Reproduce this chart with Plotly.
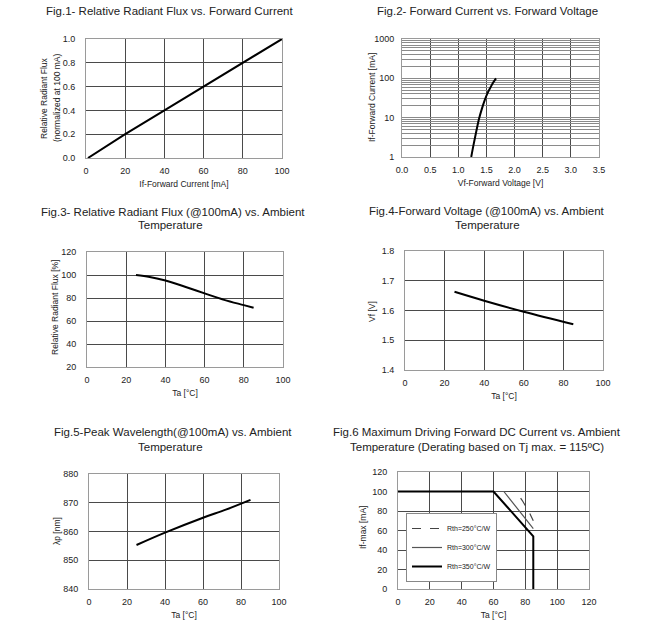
import plotly.graph_objects as go

W, H = 662, 627
FONT = "Liberation Sans"

# ---------------- data ----------------
f1_current = [1, 20, 40, 60, 80, 100]
f1_flux = [0.0, 0.2, 0.4, 0.6, 0.8, 1.0]

f2_voltage = [1.23, 1.27, 1.32, 1.37, 1.42, 1.47, 1.52, 1.57, 1.62, 1.67]
f2_current = [1.0, 2.0, 4.5, 9.5, 17, 28, 42, 58, 78, 100]

f3_temp = [25, 32, 40, 50, 60, 70, 80, 85]
f3_flux = [100, 98.3, 95.3, 89.8, 84.0, 78.4, 73.8, 71.5]

f4_temp = [25, 40, 60, 85]
f4_vf = [1.663, 1.633, 1.596, 1.554]

f5_temp = [25, 40, 60, 72, 85]
f5_wl = [855.3, 859.6, 864.8, 867.6, 871.0]

f6_temp_250 = [0, 74, 78, 82, 85]
f6_imax_250 = [100, 100, 91, 80, 70]
f6_temp_300 = [0, 66.5, 85]
f6_imax_300 = [100, 100, 62]
f6_temp_350 = [0, 60, 85, 85]
f6_imax_350 = [100, 100, 54, 0]

# title lines: (text, centre x px, centre y px)
title_lines = [
    ("Fig.1- Relative Radiant Flux vs. Forward Current", 169, 11),
    ("Fig.2- Forward Current vs. Forward Voltage", 487, 11),
    ("Fig.3- Relative Radiant Flux (@100mA) vs. Ambient", 173, 212),
    ("Temperature", 170, 225),
    ("Fig.4-Forward Voltage (@100mA) vs. Ambient", 487, 211),
    ("Temperature", 487, 225),
    ("Fig.5-Peak Wavelength(@100mA) vs. Ambient", 173, 432),
    ("Temperature", 170, 447),
    ("Fig.6 Maximum Driving Forward DC Current vs. Ambient", 477, 432),
    ("Temperature (Derating based on Tj max. = 115ºC)", 477, 447),
]

# y-axis titles: (text, centre x px, centre y px)
ytitles = [
    ("Relative Radiant Flux", 44, 98),
    ("(normalized at 100 mA)", 57, 98),
    ("If-Forward Current [mA]", 372, 98),
    ("Relative Radiant Flux [%]", 55, 308),
    ("Vf [V]", 372, 312),
    ("λp [nm]", 57, 531),
    ("If-max [mA]", 363, 528),
]

# ---------------- layout helpers ----------------
def dx(a, b):
    return [a / W, b / W]

def dy(top, bottom):
    return [1 - bottom / H, 1 - top / H]

GRID = "#4a4a4a"
FRAME = "#9a9a9a"
TICKF = dict(family=FONT, size=9, color="#222")
TITLEF = dict(family=FONT, size=8.5, color="#222")

def xax(domain, anchor, rng, dtick, title, fmt=None, standoff=6):
    d = dict(domain=domain, anchor=anchor, range=rng, dtick=dtick, tick0=0,
             automargin=False,
             showgrid=True, gridcolor=GRID, gridwidth=1, zeroline=False,
             showline=True, linecolor=FRAME, linewidth=1, mirror=True,
             ticks="", tickfont=TICKF, ticklabelstandoff=4,
             title=dict(text=title, font=TITLEF, standoff=standoff))
    if fmt:
        d["tickformat"] = fmt
    return d

def yax(domain, anchor, rng, dtick, fmt=None, lso=8):
    d = dict(domain=domain, anchor=anchor, range=rng, dtick=dtick, tick0=0,
             automargin=False,
             showgrid=True, gridcolor=GRID, gridwidth=1, zeroline=False,
             showline=True, linecolor=FRAME, linewidth=1, mirror=True,
             ticks="", tickfont=TICKF, ticklabelstandoff=lso)
    if fmt:
        d["tickformat"] = fmt
    return d

fig = go.Figure()
line = dict(color="black", width=2)

fig.add_trace(go.Scatter(x=f1_current, y=f1_flux, mode="lines", line=line,
                         xaxis="x", yaxis="y", showlegend=False))
fig.add_trace(go.Scatter(x=f2_voltage, y=f2_current, mode="lines", line=line,
                         line_shape="spline", xaxis="x2", yaxis="y2", showlegend=False))
fig.add_trace(go.Scatter(x=f3_temp, y=f3_flux, mode="lines", line=line,
                         line_shape="spline", xaxis="x3", yaxis="y3", showlegend=False))
fig.add_trace(go.Scatter(x=f4_temp, y=f4_vf, mode="lines", line=line,
                         line_shape="spline", xaxis="x4", yaxis="y4", showlegend=False))
fig.add_trace(go.Scatter(x=f5_temp, y=f5_wl, mode="lines", line=line,
                         line_shape="spline", xaxis="x5", yaxis="y5", showlegend=False))
fig.add_trace(go.Scatter(x=f6_temp_250, y=f6_imax_250, mode="lines",
                         line=dict(color="#444", width=1.2, dash="dash"),
                         name="Rth=250°C/W", xaxis="x6", yaxis="y6"))
fig.add_trace(go.Scatter(x=f6_temp_300, y=f6_imax_300, mode="lines",
                         line=dict(color="#555", width=1.2),
                         name="Rth=300°C/W", xaxis="x6", yaxis="y6"))
fig.add_trace(go.Scatter(x=f6_temp_350, y=f6_imax_350, mode="lines",
                         line=dict(color="black", width=2),
                         name="Rth=350°C/W", xaxis="x6", yaxis="y6"))

dec_vals = [m * 10 ** e for e in range(3) for m in range(1, 10)] + [1000]
dec_text = [str(v) if v in (1, 10, 100, 1000) else "" for v in dec_vals]

layout = dict(
    width=W, height=H, margin=dict(l=0, r=0, t=0, b=0, autoexpand=False),
    paper_bgcolor="white", plot_bgcolor="white",
    font=dict(family=FONT, color="#222"),
    xaxis=xax(dx(86, 282), "y", [0, 100], 20, "If-Forward Current [mA]"),
    yaxis=yax(dy(39, 158), "x", [0, 1], 0.2, fmt=".1f"),
    xaxis2=xax(dx(402, 599), "y2", [0, 3.5], 0.5, "Vf-Forward Voltage [V]", fmt=".1f"),
    yaxis2=dict(yax(dy(39, 157), "x2", [0, 3], None, lso=5),
                type="log", tickvals=dec_vals, ticktext=dec_text, gridcolor="#8a8a8a"),
    xaxis3=xax(dx(87, 283), "y3", [0, 100], 20, "Ta [°C]"),
    yaxis3=yax(dy(252, 367), "x3", [20, 120], 20),
    xaxis4=xax(dx(405, 603), "y4", [0, 100], 20, "Ta [°C]"),
    yaxis4=yax(dy(251, 370), "x4", [1.4, 1.8], 0.1, fmt=".1f"),
    xaxis5=xax(dx(89, 279), "y5", [0, 100], 20, "Ta [°C]"),
    yaxis5=yax(dy(474, 589), "x5", [840, 880], 10),
    xaxis6=xax(dx(398, 589), "y6", [0, 120], 20, "Ta [°C]"),
    yaxis6=yax(dy(472, 589), "x6", [0, 120], 20),
    legend=dict(x=406 / W, y=1 - 582 / H, xanchor="left", yanchor="bottom",
                bgcolor="white", bordercolor="#888", borderwidth=1,
                font=dict(family=FONT, size=7, color="#222"),
                itemwidth=30, tracegroupgap=0),
)
layout["yaxis2"].pop("dtick")

ann = []
for t, cx, cy in title_lines:
    ann.append(dict(text=t, x=cx / W, y=1 - cy / H, xref="paper", yref="paper",
                    xanchor="center", yanchor="middle", showarrow=False,
                    font=dict(family=FONT, size=11.5, color="#222")))
for t, cx, cy in ytitles:
    ann.append(dict(text=t, x=cx / W, y=1 - cy / H, xref="paper", yref="paper",
                    xanchor="center", yanchor="middle", showarrow=False,
                    textangle=-90, font=TITLEF))
layout["annotations"] = ann

fig.update_layout(**layout)
fig.write_html("out.html", config={"displayModeBar": False},
               post_script="document.body.style.margin='0';document.body.style.overflow='hidden';")
